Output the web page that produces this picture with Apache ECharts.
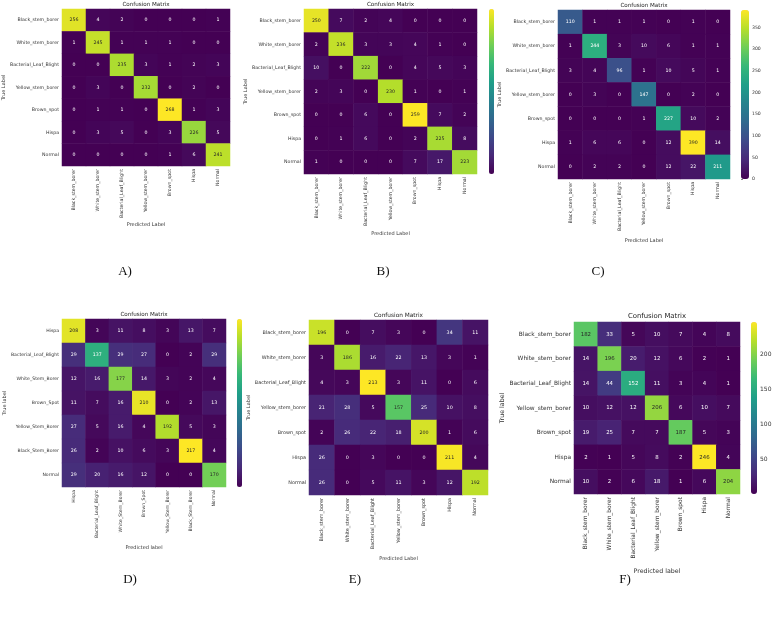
<!DOCTYPE html>
<html>
<head>
<meta charset="utf-8">
<script src="https://cdn.jsdelivr.net/npm/echarts@6/dist/echarts.min.js"></script>
<style>
  html, body { margin: 0; padding: 0; background: #fff; }
  #chart { width: 775px; height: 617px; }
</style>
</head>
<body>
<div id="chart"></div>
<script>
// class order used by panels A, B, C, E, F
const classes = ['Black_stem_borer', 'White_stem_borer', 'Bacterial_Leaf_Blight', 'Yellow_stem_borer', 'Brown_spot', 'Hispa', 'Normal']
// panel D uses its own order / capitalisation
const classesD = ['Hispa', 'Bacterial_Leaf_Blight', 'White_Stem_Borer', 'Brown_Spot', 'Yellow_Stem_Borer', 'Black_Stem_Borer', 'Normal']

const matrixA = [
  [256, 4, 2, 0, 0, 0, 1],
  [1, 245, 1, 1, 1, 0, 0],
  [0, 0, 235, 3, 1, 2, 3],
  [0, 3, 0, 232, 0, 2, 0],
  [0, 1, 1, 0, 268, 1, 3],
  [0, 3, 5, 0, 3, 226, 5],
  [0, 0, 0, 0, 1, 6, 241]
]
const matrixB = [
  [250, 7, 2, 4, 0, 0, 0],
  [2, 236, 3, 3, 4, 1, 0],
  [10, 0, 222, 0, 4, 5, 3],
  [2, 3, 0, 230, 1, 0, 1],
  [0, 0, 6, 0, 259, 7, 2],
  [0, 1, 6, 0, 2, 225, 8],
  [1, 0, 0, 0, 7, 17, 223]
]
const matrixC = [
  [110, 1, 1, 1, 0, 1, 0],
  [1, 244, 3, 10, 6, 1, 1],
  [3, 4, 96, 1, 10, 5, 1],
  [0, 3, 0, 147, 0, 2, 0],
  [0, 0, 0, 1, 227, 10, 2],
  [1, 6, 6, 0, 12, 390, 14],
  [0, 2, 2, 0, 12, 22, 211]
]
const matrixD = [
  [208, 3, 11, 8, 3, 13, 7],
  [29, 137, 29, 27, 0, 2, 29],
  [12, 16, 177, 14, 3, 2, 4],
  [11, 7, 16, 210, 0, 2, 13],
  [27, 5, 16, 4, 192, 5, 3],
  [26, 2, 10, 6, 3, 217, 4],
  [29, 20, 16, 12, 0, 0, 170]
]
const matrixE = [
  [196, 0, 7, 3, 0, 34, 11],
  [3, 186, 16, 22, 13, 3, 1],
  [4, 3, 213, 3, 11, 0, 6],
  [21, 28, 5, 157, 25, 10, 8],
  [2, 26, 22, 18, 200, 1, 6],
  [26, 0, 3, 0, 0, 211, 4],
  [26, 0, 5, 11, 3, 12, 192]
]
const matrixF = [
  [182, 33, 5, 10, 7, 4, 8],
  [14, 196, 20, 12, 6, 2, 1],
  [14, 44, 152, 11, 3, 4, 1],
  [10, 12, 12, 206, 6, 10, 7],
  [19, 25, 7, 7, 187, 5, 3],
  [2, 1, 5, 8, 2, 246, 4],
  [10, 2, 6, 18, 1, 6, 204]
]

const colorbarTicksC = [0, 50, 100, 150, 200, 250, 300, 350]
const colorbarTicksF = [50, 100, 150, 200]
const captions = ['A)', 'B)', 'C)', 'D)', 'E)', 'F)']

const viridis = ['#440154', '#482878', '#3e4989', '#31688e', '#26828e', '#1f9e89', '#35b779', '#6ece58', '#b5de2b', '#fde725']
const FONT = 'DejaVu Sans'

// layout of each panel (pixels)
const panels = [
  { m: matrixA, labels: classes, grid: { left: 62, top: 9, width: 168, height: 157 }, fs: 4.7, cellFs: 4.7, titleFs: 5.6, nameFs: 5,
    xName: 'Predicted Label', yName: 'True Label', xGap: 55, yGap: 54, caption: [125, 272] },
  { m: matrixB, labels: classes, grid: { left: 304, top: 9, width: 173, height: 165 }, fs: 4.7, cellFs: 4.7, titleFs: 5.6, nameFs: 5,
    xName: 'Predicted Label', yName: 'True Label', xGap: 57, yGap: 56, caption: [383, 272],
    bar: { left: 489, width: 5 } },
  { m: matrixC, labels: classes, grid: { left: 558, top: 10, width: 172, height: 169 }, fs: 4.7, cellFs: 4.7, titleFs: 5.6, nameFs: 5,
    xName: 'Predicted Label', yName: 'True Label', xGap: 59, yGap: 55, caption: [598, 272],
    bar: { left: 741, width: 8, ticks: colorbarTicksC, tickFs: 4.6 } },
  { m: matrixD, labels: classesD, grid: { left: 62, top: 319, width: 164, height: 168 }, fs: 4.6, cellFs: 4.7, titleFs: 5.6, nameFs: 5,
    xName: 'Predicted label', yName: 'True label', xGap: 58, yGap: 53, caption: [130, 580],
    bar: { left: 237, width: 5 } },
  { m: matrixE, labels: classes, grid: { left: 309, top: 320, width: 179, height: 175 }, fs: 4.9, cellFs: 4.8, titleFs: 5.8, nameFs: 5,
    xName: 'Predicted Label', yName: 'True Label', xGap: 61, yGap: 58, caption: [355, 580] },
  { m: matrixF, labels: classes, grid: { left: 574, top: 322, width: 166, height: 172 }, fs: 5.9, cellFs: 5.4, titleFs: 6.9, nameFs: 6.3,
    xName: 'Predicted label', yName: 'True label', xGap: 74, yGap: 67, caption: [625, 580],
    bar: { left: 751, width: 6, ticks: colorbarTicksF, tickFs: 6 } }
]

const chart = echarts.init(document.getElementById('chart'))

const grid = []
const xAxis = []
const yAxis = []
const series = []
const visualMap = []
const title = []
const graphic = []

panels.forEach((p, i) => {
  const flat = p.m.flat()
  const min = Math.min(...flat)
  const max = Math.max(...flat)
  const data = []
  p.m.forEach((row, r) => {
    row.forEach((v, c) => {
      const t = (v - min) / (max - min)
      data.push({ value: [c, r, v], label: { color: t > 0.72 ? '#262626' : '#ffffff' } })
    })
  })

  grid.push(p.grid)
  xAxis.push({
    type: 'category',
    gridIndex: i,
    data: p.labels,
    axisLine: { show: false },
    axisTick: { alignWithLabel: true, length: 2, lineStyle: { color: '#333', width: 0.6 } },
    axisLabel: { rotate: 90, interval: 0, margin: 3, fontSize: p.fs, fontFamily: FONT, color: '#333' },
    splitLine: { show: false },
    name: p.xName,
    nameLocation: 'middle',
    nameGap: p.xGap,
    nameTextStyle: { fontSize: p.nameFs, fontFamily: FONT, color: '#333' }
  })
  yAxis.push({
    type: 'category',
    gridIndex: i,
    inverse: true,
    data: p.labels,
    axisLine: { show: false },
    axisTick: { alignWithLabel: true, length: 2, lineStyle: { color: '#333', width: 0.6 } },
    axisLabel: { interval: 0, margin: 3, fontSize: p.fs, fontFamily: FONT, color: '#333' },
    splitLine: { show: false },
    name: p.yName,
    nameLocation: 'middle',
    nameGap: p.yGap,
    nameTextStyle: { fontSize: p.nameFs, fontFamily: FONT, color: '#333' }
  })
  series.push({
    type: 'heatmap',
    xAxisIndex: i,
    yAxisIndex: i,
    data,
    label: { show: true, fontSize: p.cellFs, fontFamily: FONT },
    itemStyle: { borderWidth: 0 },
    emphasis: { disabled: true },
    animation: false
  })
  visualMap.push({
    type: 'continuous',
    seriesIndex: i,
    dimension: 2,
    min,
    max,
    inRange: { color: viridis },
    show: !!p.bar,
    calculable: false,
    orient: 'vertical',
    padding: 0,
    left: p.bar ? p.bar.left : 0,
    top: p.grid.top,
    itemWidth: p.bar ? p.bar.width : 5,
    itemHeight: p.grid.height
  })
  title.push({
    text: 'Confusion Matrix',
    left: p.grid.left + p.grid.width / 2,
    top: p.grid.top - p.titleFs - 2,
    textAlign: 'center',
    padding: 0,
    textStyle: { fontSize: p.titleFs, fontWeight: 'normal', fontFamily: FONT, color: '#222' }
  })
  graphic.push({
    type: 'text',
    x: p.caption[0],
    y: p.caption[1],
    style: { text: captions[i], font: '13px "Liberation Serif"', fill: '#111', align: 'center', verticalAlign: 'middle' }
  })
})

// tick labels for colorbars that show them
panels.forEach((p, i) => {
  if (!p.bar || !p.bar.ticks) return
  const flat = p.m.flat()
  const gi = grid.length
  grid.push({ left: p.bar.left, top: p.grid.top, width: p.bar.width, height: p.grid.height })
  xAxis.push({ type: 'value', gridIndex: gi, show: false, min: 0, max: 1 })
  yAxis.push({
    type: 'value',
    gridIndex: gi,
    position: 'right',
    min: Math.min(...flat),
    max: Math.max(...flat),
    axisLine: { show: false },
    splitLine: { show: false },
    axisTick: { show: true, length: 2, customValues: p.bar.ticks, lineStyle: { color: '#333', width: 0.6 } },
    axisLabel: { margin: 3, customValues: p.bar.ticks, fontSize: p.bar.tickFs, fontFamily: FONT, color: '#333' }
  })
})

chart.setOption({
  animation: false,
  title,
  grid,
  xAxis,
  yAxis,
  visualMap,
  series,
  graphic
})
</script>
</body>
</html>
